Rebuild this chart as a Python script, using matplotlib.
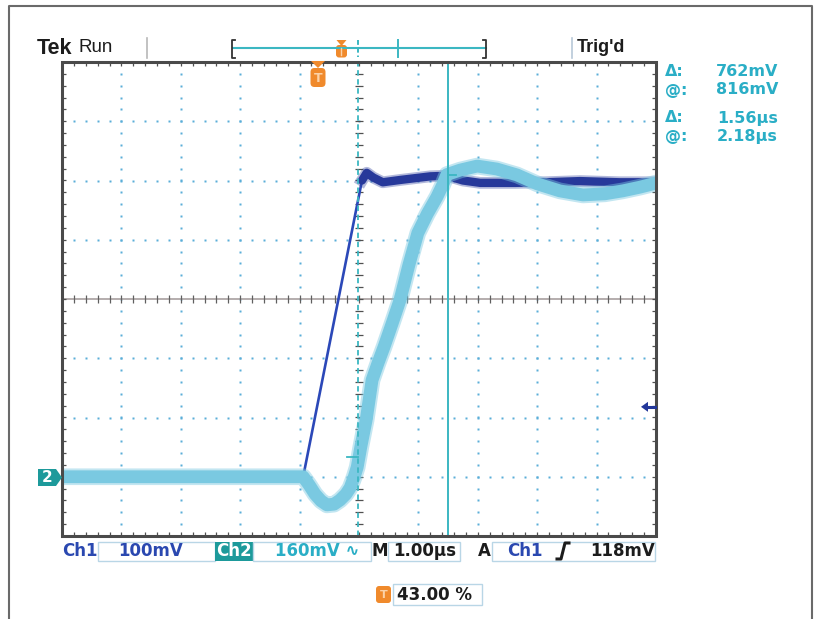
import numpy as np
import matplotlib
matplotlib.use("Agg")
import matplotlib.pyplot as plt
from matplotlib.patches import Rectangle, FancyBboxPatch, Polygon

# ---------------- data (read from the screen) ----------------
# time in microseconds relative to screen centre, 1.00 us/div
ch1_t = [-5.0, -0.94, 0.05, 0.13, 0.24, 0.40, 0.55, 0.70, 0.95, 1.20, 1.48,
         1.75, 2.04, 2.40, 2.63, 3.13, 3.72, 4.39, 5.0]
ch1_mv = [0, 0, 500, 513, 505, 497, 499, 501, 504, 507, 508,
          500, 496, 496, 496, 497, 499, 497, 497]

ch2_t = [-5.0, -0.94, -0.84, -0.74, -0.64, -0.54, -0.42, -0.32, -0.22, -0.15,
         -0.08, -0.03, 0.03, 0.12, 0.22, 0.32, 0.42, 0.56, 0.69, 0.84, 0.99,
         1.15, 1.31, 1.40, 1.48, 1.70, 1.99, 2.32, 2.66, 3.00, 3.38, 3.77,
         4.14, 4.44, 4.73, 5.0]
ch2_mv = [0, 0, -22, -47, -65, -76, -74, -63, -47, -30,
          0, 26, 80, 153, 261, 307, 350, 415, 477, 572, 658,
          710, 755, 785, 816, 828, 839, 831, 815, 791, 772, 761,
          764, 772, 782, 793]

ch1_scale = 100.0   # mV/div
ch2_scale = 160.0   # mV/div
ch1_offset = -3.0   # div (ground marker position)
ch2_offset = -3.0
trig_level = 118.0  # mV on Ch1
cursor_t = [-0.02, 1.49]   # us

readouts = [("Δ:", "762mV"), ("@:", "816mV"), ("Δ:", "1.56µs"), ("@:", "2.18µs")]
bottom_labels = {"ch1": "100mV", "ch2": "160mV ∿", "time": "1.00µs",
                 "trig": "118mV", "pos": "43.00 %"}

# ---------------- figure ----------------
W, H = 817, 619
fig = plt.figure(figsize=(W / 100, H / 100), dpi=100)
fig.patch.set_facecolor("white")

L, T, R, B = 62, 62, 656, 536
ax = fig.add_axes([L / W, (H - B) / H, (R - L) / W, (B - T) / H])
ax.set_xlim(-5, 5)
ax.set_ylim(-4, 4)
ax.axis("off")
ax.set_zorder(1)

ov = fig.add_axes([0, 0, 1, 1])
ov.set_xlim(0, W)
ov.set_ylim(H, 0)
ov.axis("off")
ov.set_zorder(2)
ov.patch.set_alpha(0)

# ---------- graticule ----------
dotc = "#5aaed8"
minor = np.arange(-4, 4.001, 0.2)
minor_x = np.arange(-5, 5.001, 0.2)
for gx in [-4, -3, -2, -1, 1, 2, 3, 4]:
    ax.plot(np.full_like(minor, gx), minor, ls="none", marker="s", ms=1.6,
            mec="none", mfc=dotc, zorder=1)
for gy in [-3, -2, -1, 1, 2, 3]:
    ax.plot(minor_x, np.full_like(minor_x, gy), ls="none", marker="s", ms=1.6,
            mec="none", mfc=dotc, zorder=1)

# centre horizontal line with ticks
ax.plot([-5, 5], [0, 0], color="#a8a0a0", lw=1.2, zorder=1.5)
ax.vlines(minor_x, -0.06, 0.06, color="#606060", lw=0.9, zorder=1.5)
# centre vertical ticks
ax.hlines(minor, -0.06, 0.06, color="#505050", lw=0.9, zorder=1.5)

# frame ticks
ax.vlines(minor_x, 4 - 0.07, 4, color="#505050", lw=0.9, zorder=1.5)
ax.vlines(minor_x, -4, -4 + 0.07, color="#505050", lw=0.9, zorder=1.5)
ax.hlines(minor, -5, -5 + 0.07, color="#505050", lw=0.9, zorder=1.5)
ax.hlines(minor, 5 - 0.07, 5, color="#505050", lw=0.9, zorder=1.5)
ax.add_patch(Rectangle((-5, -4), 10, 8, fill=False, ec="#4a4a4a", lw=2.2,
                       zorder=6, clip_on=False))

# ---------- traces ----------
y1 = np.array(ch1_mv) / ch1_scale + ch1_offset
y2 = np.array(ch2_mv) / ch2_scale + ch2_offset
c1 = "#27399a"
c2 = "#7ac9e1"
# ch1 ramp (thin) and settled part (thick)
ax.plot(ch1_t[:3], y1[:3], color="#2b48b8", lw=1.9, zorder=3,
        solid_capstyle="round")
ax.plot(ch1_t[2:], y1[2:], color=c1, lw=8.5, alpha=0.35, zorder=3,
        solid_joinstyle="round")
ax.plot(ch1_t[2:], y1[2:], color=c1, lw=6.0, zorder=3,
        solid_joinstyle="round", solid_capstyle="round")
# ch2 thick noisy band
ax.plot(ch2_t, y2, color=c2, lw=12.0, alpha=0.45, zorder=4,
        solid_joinstyle="round")
ax.plot(ch2_t, y2, color=c2, lw=9.2, zorder=4, solid_joinstyle="round")

# ---------- cursors ----------
cc = "#3bb7c2"
ax.plot([cursor_t[0], cursor_t[0]], [-4, 4], color=cc, lw=1.3, ls=(0, (3, 2)),
        zorder=5)
ax.plot([cursor_t[1], cursor_t[1]], [-4, 4], color=cc, lw=1.4, zorder=5)
c_lo = 816 - 762
ax.plot([cursor_t[0] - 0.18, cursor_t[0]], [c_lo / ch2_scale + ch2_offset] * 2,
        color=cc, lw=1.3, zorder=5)
ax.plot([cursor_t[1], cursor_t[1] + 0.14], [816 / ch2_scale + ch2_offset] * 2,
        color=cc, lw=1.3, zorder=5)

# ---------- overlay annotations (pixel coords) ----------
txtc = "#1c1c1c"
blue = "#2a48b0"
cyan = "#2aaec6"
teal = "#1d9a9b"
orange = "#f08a2c"

# top status
ov.text(37, 48, "Tek", fontsize=15.5, fontweight="bold", family="Liberation Sans",
        color=txtc, ha="left", va="center")
ov.text(79, 48, "Run", fontsize=13.5, family="Liberation Sans", color=txtc,
        ha="left", va="center")
ov.plot([147, 147], [38, 58], color="#b8b8b8", lw=1.2)
ov.plot([572, 572], [38, 58], color="#b8c8d8", lw=1.2)
ov.text(577, 48, "Trig'd", fontsize=13, fontweight="bold",
        family="Liberation Sans", color=txtc, ha="left", va="center")

# record bar
ov.plot([233, 486], [48, 48], color=cc, lw=1.5)
ov.plot([235, 232, 232, 235], [40, 40, 58, 58], color="#333333", lw=1.3)
ov.plot([483, 486, 486, 483], [40, 40, 58, 58], color="#333333", lw=1.3)
ov.plot([398, 398], [40, 57], color=cc, lw=1.4)
ov.plot([358, 358], [40, 57], color=cc, lw=1.4, ls=(0, (2.5, 1.5)))
ov.add_patch(FancyBboxPatch((336, 45), 11, 12.5, boxstyle="round,pad=0,rounding_size=3",
                            fc=orange, ec="none"))
ov.add_patch(Polygon([[336.5, 40], [346.5, 40], [341.5, 46]], closed=True,
                     fc=orange, ec="none"))
ov.plot([341.5, 341.5], [48, 55], color="#fbd2a8", lw=1.0)

# trigger position marker
ov.add_patch(Polygon([[311, 61], [325, 61], [318, 68]], closed=True,
                     fc=orange, ec="none"))
ov.add_patch(FancyBboxPatch((310.5, 68), 15, 19, boxstyle="round,pad=0,rounding_size=4",
                            fc=orange, ec="none"))
ov.text(318, 78, "T", fontsize=9, fontweight="bold", color="#fbd2a8",
        ha="center", va="center")

# cursor readouts
rows_y = [72, 90, 118, 137]
for (lab, val), yy in zip(readouts, rows_y):
    ov.text(665, yy, lab, fontsize=11.5, color=cyan, ha="left", va="center",
            fontweight="semibold")
    ov.text(778, yy, val, fontsize=11.5, color=cyan, ha="right", va="center",
            fontweight="semibold")

# ch2 ground marker
ov.add_patch(Polygon([[38, 469], [56, 469], [62, 477.5], [56, 486], [38, 486]],
                     closed=True, fc=teal, ec="none"))
ov.text(47, 477.5, "2", fontsize=11, fontweight="bold", color="white",
        ha="center", va="center")

# trigger level arrow (ch1, right edge)
ty = 299 - (trig_level / ch1_scale + ch1_offset) * 59.25
ov.plot([646, 655], [ty, ty], color="#23379a", lw=2.2)
ov.add_patch(Polygon([[641, ty], [648, ty - 5], [648, ty + 5]], closed=True,
                     fc="#23379a", ec="none"))

# bottom readouts
by = 551
boxc = "#b9d6e6"
ov.text(62, by, "Ch1", fontsize=12, fontweight="bold", color=blue,
        ha="left", va="center")
ov.add_patch(Rectangle((98, 542), 117, 19, fill=False, ec=boxc, lw=1))
ov.text(118, by, bottom_labels["ch1"], fontsize=12, fontweight="bold",
        color=blue, ha="left", va="center")
ov.add_patch(Rectangle((215, 542), 38, 19, fc=teal, ec="none"))
ov.text(234, by, "Ch2", fontsize=12, fontweight="bold", color="white",
        ha="center", va="center")
ov.add_patch(Rectangle((253, 542), 118, 19, fill=False, ec=boxc, lw=1))
ov.text(275, by, bottom_labels["ch2"], fontsize=12, fontweight="bold",
        color=cyan, ha="left", va="center")
ov.text(372, by, "M", fontsize=12, fontweight="bold", color=txtc,
        ha="left", va="center")
ov.add_patch(Rectangle((388, 542), 72, 19, fill=False, ec=boxc, lw=1))
ov.text(393, by, bottom_labels["time"], fontsize=12, fontweight="bold",
        color=txtc, ha="left", va="center")
ov.text(478, by, "A", fontsize=12, fontweight="bold", color=txtc,
        ha="left", va="center")
ov.add_patch(Rectangle((492, 542), 163, 19, fill=False, ec=boxc, lw=1))
ov.text(507, by, "Ch1", fontsize=12, fontweight="bold", color=blue,
        ha="left", va="center")
ov.plot([557, 561, 565, 569], [559, 559, 543, 543], color=txtc, lw=2.2,
        solid_joinstyle="round")
ov.text(655, by, bottom_labels["trig"], fontsize=12, fontweight="bold",
        color=txtc, ha="right", va="center")

# trigger position readout
ov.add_patch(FancyBboxPatch((376, 586), 15, 17, boxstyle="round,pad=0,rounding_size=3",
                            fc=orange, ec="none"))
ov.text(383.5, 594.5, "T", fontsize=8, fontweight="bold", color="#fbd2a8",
        ha="center", va="center")
ov.add_patch(Rectangle((393, 584), 89, 21, fill=False, ec=boxc, lw=1))
ov.text(397, 595, bottom_labels["pos"], fontsize=12, fontweight="bold",
        color=txtc, ha="left", va="center")

# outer border
ov.plot([9, 9, 812, 812], [618, 6, 6, 618], color="#6a6a6a", lw=1.5)

fig.savefig("out.png", dpi=100, facecolor="white")
